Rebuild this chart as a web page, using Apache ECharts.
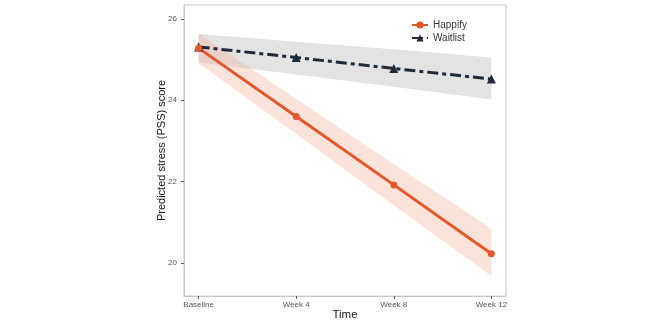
<!DOCTYPE html>
<html>
<head>
<meta charset="utf-8">
<script src="https://cdn.jsdelivr.net/npm/echarts@6/dist/echarts.min.js"></script>
<style>
  html, body { margin: 0; padding: 0; background: #fff; }
  #chart { width: 666px; height: 326px; }
</style>
</head>
<body>
<div id="chart"></div>
<script>
   var weeks = [0, 4, 8, 12];
   var tickLabels = ['Baseline', 'Week 4', 'Week 8', 'Week 12'];
   var happify = [25.28, 23.60, 21.92, 20.23];
   var happifyLow = [24.91, 23.17, 21.42, 19.68];
   var happifyHigh = [25.64, 24.03, 22.43, 20.84];
   var waitlist = [25.31, 25.05, 24.78, 24.52];
   var waitlistLow = [24.93, 24.63, 24.33, 24.02];
   var waitlistHigh = [25.63, 25.44, 25.25, 25.05];
   var yTicks = [20, 22, 24, 26];

   function pairs(vals) {
       return weeks.map(function(w, i) { return [w, vals[i]]; });
   }
   function band(lo, hi) {
       return weeks.map(function(w, i) { return [w, lo[i], hi[i]]; });
   }
   // one polygon for the whole ribbon, drawn on the first item
   function ribbon(color) {
       return function(params, api) {
           if (params.dataIndexInside !== 0) return null;
           var n = params.dataInsideLength;
           var top = [], bottom = [];
           for (var i = 0; i < n; i++) {
               top.push(api.coord([api.value(0, i), api.value(2, i)]));
               bottom.unshift(api.coord([api.value(0, i), api.value(1, i)]));
           }
           return {
               type: 'polygon',
               shape: { points: top.concat(bottom) },
               style: { fill: color },
               silent: true
           };
       };
   }

   var chart = echarts.init(document.getElementById('chart'));
   var font = 'Liberation Sans, Arial, sans-serif';

   var option = {
       animation: false,
       textStyle: { fontFamily: font },
       grid: {
           left: 184,
           right: 160,
           top: 5,
           bottom: 30,
           outerBoundsMode: 'none',
           containLabel: false,
           show: true,
           borderColor: '#c6c6c6',
           borderWidth: 1
       },
       legend: {
           data: ['Happify', 'Waitlist'],
           orient: 'vertical',
           left: 406,
           top: 15,
           itemGap: 3,
           itemWidth: 16,
           itemHeight: 9,
           textStyle: { fontSize: 10, color: '#333', fontFamily: font }
       },
       xAxis: {
           type: 'value',
           min: -0.6,
           max: 12.6,
           name: 'Time',
           nameLocation: 'middle',
           nameGap: 13,
           nameMoveOverlap: false,
           nameTextStyle: { fontSize: 11.5, color: '#111', fontFamily: font },
           splitLine: { show: false },
           axisLine: { show: true, onZero: false, lineStyle: { color: '#c6c6c6' } },
           axisTick: { show: true, length: 3, customValues: weeks, lineStyle: { color: '#555' } },
           axisLabel: {
               customValues: weeks,
               fontSize: 8,
               color: '#555',
               margin: 5,
               formatter: function(v) { return tickLabels[weeks.indexOf(v)]; }
           }
       },
       yAxis: {
           type: 'value',
           min: 19.19,
           max: 26.34,
           name: 'Predicted stress (PSS) score',
           nameLocation: 'middle',
           nameGap: 17,
           nameMoveOverlap: false,
           nameTextStyle: { fontSize: 11, color: '#111', fontFamily: font },
           splitLine: { show: false },
           axisLine: { show: true, onZero: false, lineStyle: { color: '#c6c6c6' } },
           axisTick: { show: true, length: 3, customValues: yTicks, lineStyle: { color: '#555' } },
           axisLabel: { customValues: yTicks, fontSize: 8, color: '#555', margin: 7 }
       },
       series: [{
           type: 'custom',
           data: band(waitlistLow, waitlistHigh),
           encode: { x: 0, y: [1, 2] },
           renderItem: ribbon('rgba(150, 150, 155, 0.27)'),
           silent: true,
           z: 1
       }, {
           type: 'custom',
           data: band(happifyLow, happifyHigh),
           encode: { x: 0, y: [1, 2] },
           renderItem: ribbon('rgba(246, 175, 148, 0.35)'),
           silent: true,
           z: 1
       }, {
           name: 'Waitlist',
           type: 'line',
           data: pairs(waitlist),
           symbol: 'triangle',
           symbolSize: 9,
           itemStyle: { color: '#1e2b3a' },
           lineStyle: { color: '#1e2b3a', width: 3, type: [11, 4, 4, 4] },
           z: 3
       }, {
           name: 'Happify',
           type: 'line',
           data: pairs(happify),
           symbol: 'circle',
           symbolSize: 7,
           itemStyle: { color: '#e4572a' },
           lineStyle: { color: '#e4572a', width: 3 },
           z: 3
       }]
   };
   chart.setOption(option);
   window.onresize = function() {
       chart.resize();
   };
</script>
</body>
</html>
